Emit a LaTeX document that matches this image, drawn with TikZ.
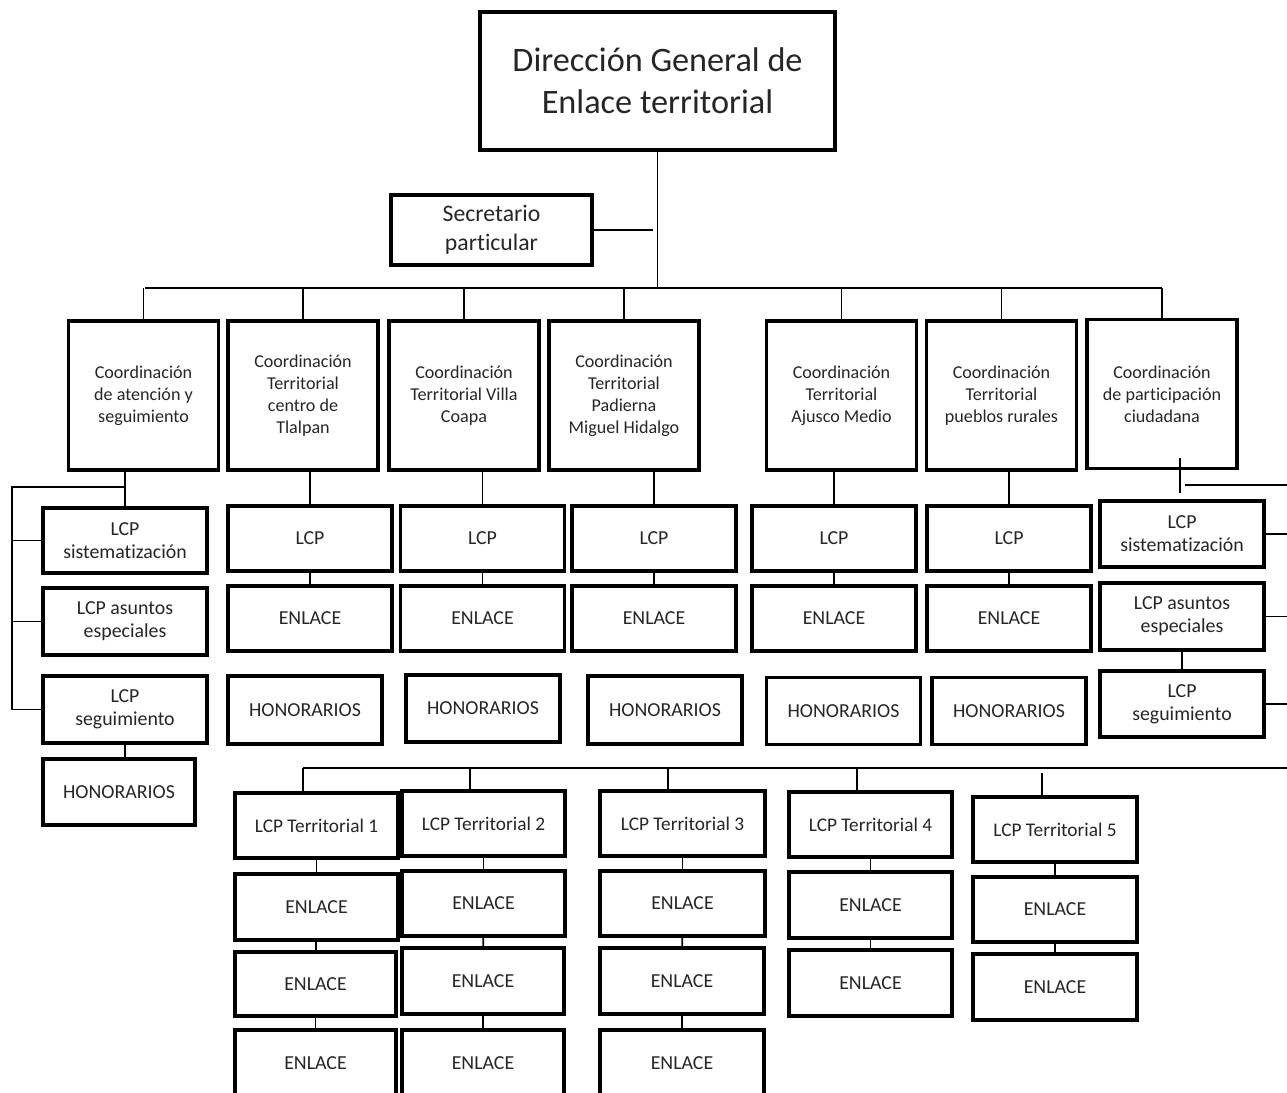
\documentclass[tikz,border=0pt]{standalone}
\usepackage{fontspec}
\setmainfont[Ligatures=NoCommon]{Carlito}
\usetikzlibrary{positioning}

\begin{document}
\begin{tikzpicture}[x=0.02cm, y=-0.02cm]
\tikzstyle{box} = [rectangle, draw, line width=2.2pt, inner sep=1pt, align=center, text=black!85]
\tikzstyle{coord} = [box, minimum width=3cm, minimum height=2.98cm, font=\fontsize{10.3}{12.5}\selectfont]
\tikzstyle{unit} = [box, minimum width=3.28cm, minimum height=1.3cm, font=\fontsize{11.3}{13.2}\selectfont]
\tikzstyle{hon} = [box, minimum width=3.08cm, minimum height=1.34cm, font=\fontsize{11.3}{13.2}\selectfont]
\tikzstyle{terr} = [unit, font=\fontsize{11}{13}\selectfont]
\tikzstyle{line} = [draw, line width=1pt]

\useasboundingbox (0,0) rectangle (1287,1092);
\clip (0,0) rectangle (1287,1092);
\coordinate (edge) at (1287,0);

% direccion y secretario
\node (title) [box, minimum width=7.1cm, minimum height=2.76cm, font=\fontsize{19.5}{23.8}\selectfont] at (657.5,81) {Dirección General de\\Enlace territorial};
\node (sec) [box, minimum width=4.02cm, minimum height=1.4cm, font=\fontsize{13.5}{16.4}\selectfont] at (491.5,230) {Secretario\\particular};

% coordinaciones
\node (c1) [coord] at (143.5,395.5) {Coordinación\\de atención y\\seguimiento};
\node (c2) [coord] at (303,395.5) {Coordinación\\Territorial\\centro de\\Tlalpan};
\node (c3) [coord] at (464,395.5) {Coordinación\\Territorial Villa\\Coapa};
\node (c4) [coord] at (624,395.5) {Coordinación\\Territorial\\Padierna\\Miguel Hidalgo};
\node (c5) [coord] at (841.5,395.5) {Coordinación\\Territorial\\Ajusco Medio};
\node (c6) [coord] at (1001.5,395.5) {Coordinación\\Territorial\\pueblos rurales};
\node (c7) [coord] at (1162,394) {Coordinación\\de participación\\ciudadana};

% atencion y seguimiento
\node (sis1) [unit] at (125,540.5) {LCP\\sistematización};
\node (asu1) [unit, minimum height=1.34cm] at (125,621.5) {LCP asuntos\\especiales};
\node (seg1) [unit, minimum height=1.34cm] at (125,709.5) {LCP\\seguimiento};
\node (hon1) [hon, minimum width=3.04cm, minimum height=1.32cm] at (119,792) {HONORARIOS};

% coordinaciones territoriales
\node (lcp2) [unit] at (310,538.5) {LCP};
\node (enl2) [unit] at (310,618.5) {ENLACE};
\node (hon2) [hon, minimum height=1.36cm] at (305,710) {HONORARIOS};
\node (lcp3) [unit] at (482.5,538.5) {LCP};
\node (enl3) [unit] at (482.5,618.5) {ENLACE};
\node (hon3) [hon] at (483,708.5) {HONORARIOS};
\node (lcp4) [unit] at (654,538.5) {LCP};
\node (enl4) [unit] at (654,618.5) {ENLACE};
\node (hon4) [hon, minimum height=1.36cm] at (665,710) {HONORARIOS};
\node (lcp5) [unit] at (834,538.5) {LCP};
\node (enl5) [unit] at (834,618.5) {ENLACE};
\node (hon5) [hon] at (843.5,711) {HONORARIOS};
\node (lcp6) [unit] at (1009,538.5) {LCP};
\node (enl6) [unit] at (1009,618.5) {ENLACE};
\node (hon6) [hon] at (1009,711) {HONORARIOS};

% participacion ciudadana
\node (sis7) [unit, minimum height=1.32cm] at (1182,534) {LCP\\sistematización};
\node (asu7) [unit, minimum height=1.34cm] at (1182,616.5) {LCP asuntos\\especiales};
\node (seg7) [unit, minimum height=1.32cm] at (1182,704) {LCP\\seguimiento};

% LCP territoriales
\node (t1) [terr, minimum width=3.26cm] at (316.5,825.5) {LCP Territorial 1};
\node (e11) [unit, minimum width=3.26cm, minimum height=1.32cm] at (316.5,907) {ENLACE};
\node (e12) [unit, minimum width=3.22cm, minimum height=1.28cm] at (315.5,984) {ENLACE};
\node (e13) [unit, minimum width=3.22cm, minimum height=1.32cm] at (315.5,1063) {ENLACE};
\node (t2) [terr, minimum width=3.26cm] at (483.5,823.5) {LCP Territorial 2};
\node (e21) [unit, minimum width=3.26cm] at (483.5,903.5) {ENLACE};
\node (e22) [unit, minimum width=3.24cm, minimum height=1.32cm] at (483,981) {ENLACE};
\node (e23) [unit, minimum width=3.24cm, minimum height=1.32cm] at (483,1063) {ENLACE};
\node (t3) [terr, minimum width=3.3cm] at (682.5,823.5) {LCP Territorial 3};
\node (e31) [unit, minimum width=3.3cm] at (682.5,903.5) {ENLACE};
\node (e32) [unit, minimum width=3.28cm, minimum height=1.32cm] at (682,981) {ENLACE};
\node (e33) [unit, minimum width=3.28cm, minimum height=1.32cm] at (682,1063) {ENLACE};
\node (t4) [terr, minimum width=3.26cm] at (870.5,824.5) {LCP Territorial 4};
\node (e41) [unit, minimum width=3.26cm, minimum height=1.32cm] at (870.5,905) {ENLACE};
\node (e42) [unit, minimum width=3.26cm, minimum height=1.32cm] at (870.5,983) {ENLACE};
\node (t5) [terr] at (1055,829.5) {LCP Territorial 5};
\node (e51) [unit] at (1055,909.5) {ENLACE};
\node (e52) [unit, minimum height=1.32cm] at (1055,987) {ENLACE};

% conectores superiores
\coordinate (bus) at (145,288);
\draw[line] (title.south) -- (title.south |- bus);
\draw[line] (sec.east) -- ([xshift=-0.1cm]sec.east -| title.south);
\draw[line] (bus) -- (bus -| c7.north);
\draw[line] (c1.north) -- (c1.north |- bus);
\draw[line] (c2.north) -- (c2.north |- bus);
\draw[line] (c3.north) -- (c3.north |- bus);
\draw[line] (c4.north) -- (c4.north |- bus);
\draw[line] (c5.north) -- (c5.north |- bus);
\draw[line] (c6.north) -- (c6.north |- bus);
\draw[line] (c7.north) -- (c7.north |- bus);

% conectores atencion y seguimiento
\coordinate (l1) at (12,487);
\draw[line] (c1.south -| sis1.north) -- (sis1.north);
\draw[line] (sis1.north |- l1) -- (l1) -- (l1 |- seg1.west) -- (seg1.west);
\draw[line] (l1 |- sis1.west) -- (sis1.west);
\draw[line] (l1 |- asu1.west) -- (asu1.west);
\draw[line] (seg1.south) -- (seg1.south |- hon1.north);

% conectores territoriales
\draw[line] (c2.south -| lcp2.north) -- (lcp2.north);
\draw[line] (lcp2) -- (enl2);
\draw[line] (c3.south -| lcp3.north) -- (lcp3.north);
\draw[line] (lcp3) -- (enl3);
\draw[line] (c4.south -| lcp4.north) -- (lcp4.north);
\draw[line] (lcp4) -- (enl4);
\draw[line] (c5.south -| lcp5.north) -- (lcp5.north);
\draw[line] (lcp5) -- (enl5);
\draw[line] (c6.south -| lcp6.north) -- (lcp6.north);
\draw[line] (lcp6) -- (enl6);

% conectores participacion
\coordinate (p7) at (1180,458);
\coordinate (r7) at (1185,485);
\draw[line] (p7) -- ([yshift=0.12cm]p7 |- sis7.north);
\draw[line] (r7) -- (r7 -| edge);
\draw[line] (sis7.east) -- (sis7.east -| edge);
\draw[line] (asu7.east) -- (asu7.east -| edge);
\draw[line] (seg7.east) -- (seg7.east -| edge);
\draw[line] (asu7.south) -- (seg7.north);

% LCP territoriales
\coordinate (tb) at (303,768);
\coordinate (s2) at (470,768);
\coordinate (s3) at (668,768);
\coordinate (s4) at (857,768);
\coordinate (s5) at (1042,773);
\draw[line] (tb) -- (tb -| edge);
\draw[line] (tb) -- (tb |- t1.north);
\draw[line] (s2) -- (s2 |- t2.north);
\draw[line] (s3) -- (s3 |- t3.north);
\draw[line] (s4) -- (s4 |- t4.north);
\draw[line] (s5) -- (s5 |- t5.north);
\draw[line] (t1) -- (e11);
\draw[line] (e11) -- (e12);
\draw[line] (e12) -- (e13);
\draw[line] (t2) -- (e21);
\draw[line] (e21) -- (e22);
\draw[line] (e22) -- (e23);
\draw[line] (t3) -- (e31);
\draw[line] (e31) -- (e32);
\draw[line] (e32) -- (e33);
\draw[line] (t4) -- (e41);
\draw[line] (e41) -- (e42);
\draw[line] (t5) -- (e51);
\draw[line] (e51) -- (e52);

\end{tikzpicture}
\end{document}
